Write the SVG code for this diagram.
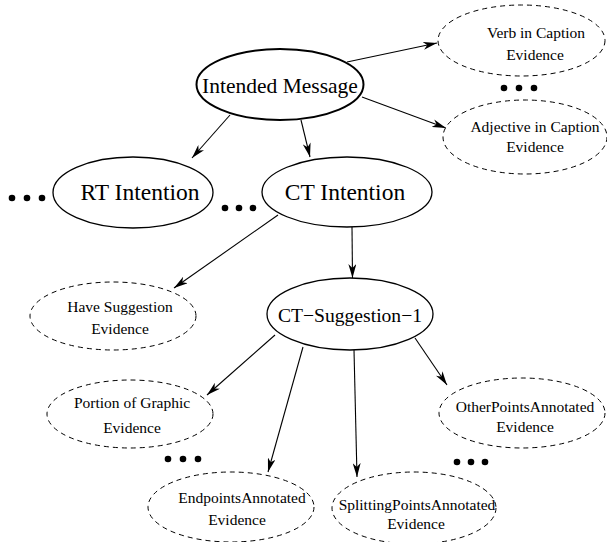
<svg xmlns="http://www.w3.org/2000/svg" width="607" height="542" viewBox="0 0 607 542">
<style>
.n{fill:#fff;stroke:#000;stroke-width:1.3}
.nb{fill:#fff;stroke:#000;stroke-width:2}
.d{fill:#fff;stroke:#000;stroke-width:1;stroke-dasharray:5,4}
text{font-family:"Liberation Serif","Times New Roman",serif;fill:#000;text-anchor:middle}
.big{font-size:23.5px}
.mid{font-size:21.5px}
.ct{font-size:19.6px}
.sm{font-size:15.5px}
.c line{stroke:#000;stroke-width:1.1;marker-end:url(#ah)}
.dot{fill:#000}
</style>
<defs>
<marker id="ah" viewBox="0 0 14 8" refX="14" refY="4" markerWidth="14" markerHeight="8" markerUnits="userSpaceOnUse" orient="auto">
<path d="M0,0 L14,4 L0,8 L4,4 z" fill="#000"/>
</marker>
</defs>
<g class="c">
<line x1="347" y1="62" x2="437" y2="43"/>
<line x1="362" y1="97" x2="446" y2="128"/>
<line x1="230" y1="115" x2="192" y2="158"/>
<line x1="301" y1="120" x2="310" y2="157"/>
<line x1="278" y1="215" x2="174" y2="288"/>
<line x1="352" y1="227" x2="352.5" y2="278"/>
<line x1="275" y1="335" x2="207" y2="395"/>
<line x1="303" y1="347" x2="268" y2="472"/>
<line x1="354" y1="350" x2="357" y2="477"/>
<line x1="415" y1="338" x2="447" y2="385"/>
</g>
<g id="intended">
<ellipse class="nb" cx="280" cy="84.5" rx="83.5" ry="35.5"/>
<text class="mid" x="280" y="93">Intended Message</text>
</g>
<g id="verb">
<ellipse class="d" cx="521.5" cy="40.5" rx="83.5" ry="35.5"/>
<text class="sm" x="536" y="38">Verb in Caption</text>
<text class="sm" x="535" y="60">Evidence</text>
</g>
<g id="adj">
<ellipse class="d" cx="525" cy="137" rx="82" ry="37"/>
<text class="sm" x="535" y="132">Adjective in Caption</text>
<text class="sm" x="535" y="152">Evidence</text>
</g>
<g id="rt">
<ellipse class="n" cx="133" cy="192.5" rx="80" ry="35.5"/>
<text class="big" x="140" y="200">RT Intention</text>
</g>
<g id="ct">
<ellipse class="n" cx="347" cy="192" rx="85" ry="35"/>
<text class="big" x="345" y="200">CT Intention</text>
</g>
<g id="have">
<ellipse class="d" cx="113" cy="316" rx="83" ry="34"/>
<text class="sm" x="120" y="312">Have Suggestion</text>
<text class="sm" x="120" y="334">Evidence</text>
</g>
<g id="ctsugg">
<ellipse class="n" cx="350" cy="314" rx="83" ry="36"/>
<text class="ct" x="350" y="322">CT−Suggestion−1</text>
</g>
<g id="portion">
<ellipse class="d" cx="130" cy="414" rx="83" ry="34"/>
<text class="sm" x="132" y="408">Portion of Graphic</text>
<text class="sm" x="132" y="433">Evidence</text>
</g>
<g id="other">
<ellipse class="d" cx="522" cy="413" rx="83" ry="35"/>
<text class="sm" x="525" y="412">OtherPointsAnnotated</text>
<text class="sm" x="525" y="432">Evidence</text>
</g>
<g id="endpoints">
<ellipse class="d" cx="231" cy="507" rx="83" ry="35"/>
<text class="sm" x="242" y="503">EndpointsAnnotated</text>
<text class="sm" x="237" y="525">Evidence</text>
</g>
<g id="splitting">
<ellipse class="d" cx="414" cy="508" rx="82" ry="36"/>
<text class="sm" x="417" y="510">SplittingPointsAnnotated</text>
<text class="sm" x="416" y="529">Evidence</text>
</g>
<g id="dots">
<circle class="dot" cx="504" cy="88" r="3.3"/><circle class="dot" cx="519" cy="88" r="3.3"/><circle class="dot" cx="534" cy="88" r="3.3"/>
<circle class="dot" cx="12" cy="198" r="3.3"/><circle class="dot" cx="27" cy="198" r="3.3"/><circle class="dot" cx="42" cy="198" r="3.3"/>
<circle class="dot" cx="225" cy="208" r="3.3"/><circle class="dot" cx="239" cy="208" r="3.3"/><circle class="dot" cx="253" cy="208" r="3.3"/>
<circle class="dot" cx="168" cy="459" r="3.3"/><circle class="dot" cx="183" cy="459" r="3.3"/><circle class="dot" cx="198" cy="459" r="3.3"/>
<circle class="dot" cx="457" cy="462" r="3.3"/><circle class="dot" cx="471" cy="462" r="3.3"/><circle class="dot" cx="485" cy="462" r="3.3"/>
</g>
</svg>
